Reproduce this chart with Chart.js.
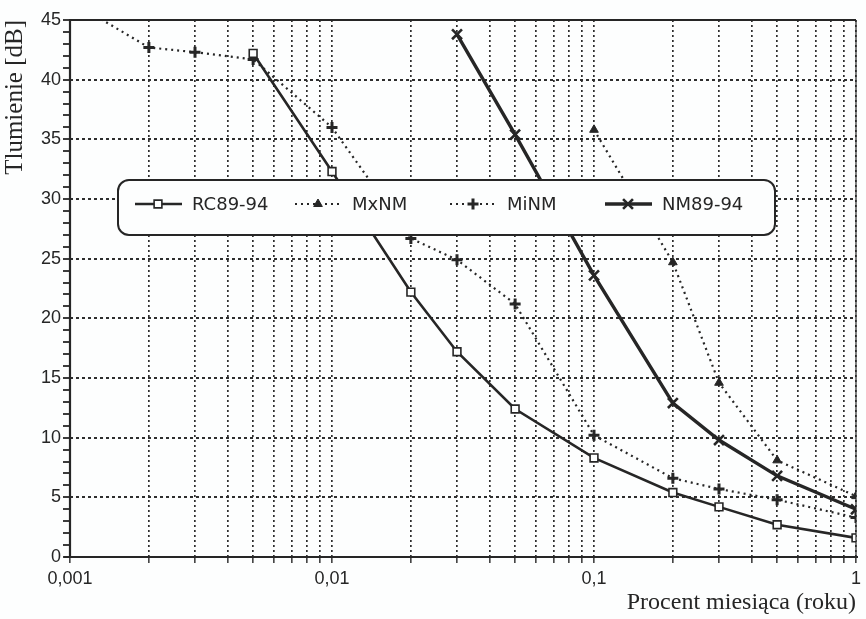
<!DOCTYPE html>
<html>
<head>
<meta charset="utf-8">
<script src="https://cdn.jsdelivr.net/npm/chart.js@4/dist/chart.umd.min.js"></script>
<style>
  html, body { margin: 0; padding: 0; background: #fdfefe; }
  #wrap { width: 866px; height: 619px; }
</style>
</head>
<body>
<div id="wrap"><canvas id="chart" width="866" height="619"></canvas></div>
<script>
// values (x = percent of month, y = attenuation dB)
const X_TICKS = [
  0.001, 0.002, 0.003, 0.004, 0.005, 0.006, 0.007, 0.008, 0.009,
  0.01, 0.02, 0.03, 0.04, 0.05, 0.06, 0.07, 0.08, 0.09,
  0.1, 0.2, 0.3, 0.4, 0.5, 0.6, 0.7, 0.8, 0.9, 1
];
const X_LABEL_AT = [0.001, 0.01, 0.1, 1];
const X_LABELS = ['0,001', '0,01', '0,1', '1'];

const RC_X = [0.005, 0.01, 0.02, 0.03, 0.05, 0.1, 0.2, 0.3, 0.5, 1];
const RC_Y = [42.2, 32.3, 22.2, 17.2, 12.4, 8.3, 5.4, 4.2, 2.7, 1.6];

const MXNM_X = [0.1, 0.2, 0.3, 0.5, 1];
const MXNM_Y = [35.8, 24.7, 14.6, 8.1, 5.1];

const MINM_X = [0.001, 0.002, 0.003, 0.005, 0.01, 0.02, 0.03, 0.05, 0.1, 0.2, 0.3, 0.5, 1];
const MINM_Y = [46.6, 42.7, 42.3, 41.7, 36.0, 26.7, 24.9, 21.2, 10.2, 6.6, 5.7, 4.8, 3.3];

const NM_X = [0.03, 0.05, 0.1, 0.2, 0.3, 0.5, 1];
const NM_Y = [43.8, 35.4, 23.6, 12.9, 9.8, 6.8, 4.0];

const INK = '#262626';
const GRID = '#2e2e2e';

function pts(xs, ys) {
  return xs.map((x, i) => ({ x, y: ys[i] }));
}

// rounded legend box inside the plot, like the original
const boxLegend = {
  id: 'boxLegend',
  afterDraw(chart) {
    const ctx = chart.ctx;
    const bx = 118, by = 180, bw = 657, bh = 55, r = 11;
    ctx.save();
    ctx.beginPath();
    ctx.moveTo(bx + r, by);
    ctx.arcTo(bx + bw, by, bx + bw, by + bh, r);
    ctx.arcTo(bx + bw, by + bh, bx, by + bh, r);
    ctx.arcTo(bx, by + bh, bx, by, r);
    ctx.arcTo(bx, by, bx + bw, by, r);
    ctx.closePath();
    ctx.fillStyle = '#fdfefe';
    ctx.fill();
    ctx.lineWidth = 2;
    ctx.strokeStyle = INK;
    ctx.stroke();

    const starts = [135, 295, 450, 605];
    const cy = by + 24;
    chart.data.datasets.forEach((ds, i) => {
      const x0 = starts[i];
      ctx.beginPath();
      ctx.setLineDash(ds.borderDash || []);
      ctx.lineWidth = ds.borderWidth;
      ctx.strokeStyle = INK;
      ctx.moveTo(x0, cy);
      ctx.lineTo(x0 + 47, cy);
      ctx.stroke();
      ctx.setLineDash([]);
      ctx.fillStyle = ds.pointBackgroundColor;
      ctx.strokeStyle = INK;
      ctx.lineWidth = ds.pointBorderWidth;
      Chart.helpers.drawPoint(ctx, {
        pointStyle: ds.pointStyle, radius: ds.pointRadius, rotation: 0, borderWidth: ds.pointBorderWidth
      }, x0 + 23, cy);
      ctx.fillStyle = INK;
      ctx.font = '18px "DejaVu Sans"';
      ctx.textBaseline = 'middle';
      ctx.fillText(ds.label, x0 + 57, cy + 1);
    });
    ctx.restore();
  }
};

// solid frame round the plot area
const frame = {
  id: 'frame',
  afterDatasetsDraw(chart) {
    const { left, right, top, bottom } = chart.chartArea;
    const ctx = chart.ctx;
    ctx.save();
    ctx.strokeStyle = INK;
    ctx.lineWidth = 2.2;
    ctx.beginPath();
    ctx.moveTo(left - 6, bottom);
    ctx.lineTo(right + 2, bottom);
    ctx.moveTo(left, bottom);
    ctx.lineTo(left, top);
    ctx.lineTo(right, top);
    ctx.stroke();
    ctx.lineWidth = 1.2;
    ctx.beginPath();
    ctx.moveTo(right, top);
    ctx.lineTo(right, bottom);
    ctx.stroke();
    ctx.restore();
  }
};

new Chart(document.getElementById('chart'), {
  type: 'line',
  data: {
    datasets: [
      { label: 'RC89-94', data: pts(RC_X, RC_Y), borderColor: INK, borderWidth: 2.6, borderDash: [],
        pointStyle: 'rect', pointRadius: 5.5, pointBorderWidth: 1.6, pointBackgroundColor: '#fdfefe', pointBorderColor: INK },
      { label: 'MxNM', data: pts(MXNM_X, MXNM_Y), borderColor: INK, borderWidth: 2.2, borderDash: [2, 4],
        pointStyle: 'triangle', pointRadius: 5, pointBorderWidth: 1, pointBackgroundColor: INK, pointBorderColor: INK },
      { label: 'MiNM', data: pts(MINM_X, MINM_Y), borderColor: INK, borderWidth: 2.2, borderDash: [2, 4],
        pointStyle: 'cross', pointRadius: 5.5, pointBorderWidth: 3, pointBackgroundColor: INK, pointBorderColor: INK },
      { label: 'NM89-94', data: pts(NM_X, NM_Y), borderColor: INK, borderWidth: 3.4, borderDash: [],
        pointStyle: 'crossRot', pointRadius: 7, pointBorderWidth: 2.6, pointBackgroundColor: INK, pointBorderColor: INK }
    ]
  },
  options: {
    responsive: false,
    animation: false,
    layout: { padding: { top: 20, right: 6, left: 0, bottom: 0 } },
    plugins: { legend: { display: false }, tooltip: { enabled: false } },
    elements: { line: { tension: 0 } },
    scales: {
      x: {
        type: 'logarithmic', min: 0.001, max: 1,
        afterBuildTicks: s => { s.ticks = X_TICKS.map(v => ({ value: v })); },
        afterFit: s => { s.height = 62; },
        grid: { color: GRID, lineWidth: 1.7, tickLength: 6, tickColor: INK, tickWidth: 1.4 },
        border: { display: false, dash: [2, 3] },
        ticks: {
          autoSkip: false, maxRotation: 0, padding: 5, color: INK,
          font: { family: '"Liberation Sans"', size: 18 },
          callback: v => {
            const i = X_LABEL_AT.findIndex(a => Math.abs(a - v) < 1e-9);
            return i >= 0 ? X_LABELS[i] : '';
          }
        },
        title: { display: true, text: 'Procent miesiąca (roku)', align: 'end', color: INK,
          font: { family: '"Liberation Serif"', size: 24 }, padding: { top: 0, bottom: 2 } }
      },
      y: {
        min: 0, max: 45,
        afterFit: s => { s.width = 70; },
        grid: {
          color: c => (c.tick && c.tick.value % 5 === 0) ? GRID : 'rgba(0,0,0,0)',
          lineWidth: 2, tickLength: 7, tickColor: INK, tickWidth: 1.8
        },
        border: { display: false, dash: [3, 3] },
        ticks: {
          stepSize: 1, autoSkip: false, padding: 2, color: INK,
          font: { family: '"Liberation Sans"', size: 18 },
          callback: v => (v % 5 === 0 ? String(v) : '')
        },
        title: { display: true, text: 'Tlumienie [dB]', align: 'end', color: INK,
          font: { family: '"Liberation Serif"', size: 25 }, padding: { top: 0, bottom: 0 } }
      }
    }
  },
  plugins: [frame, boxLegend]
});
</script>
</body>
</html>
